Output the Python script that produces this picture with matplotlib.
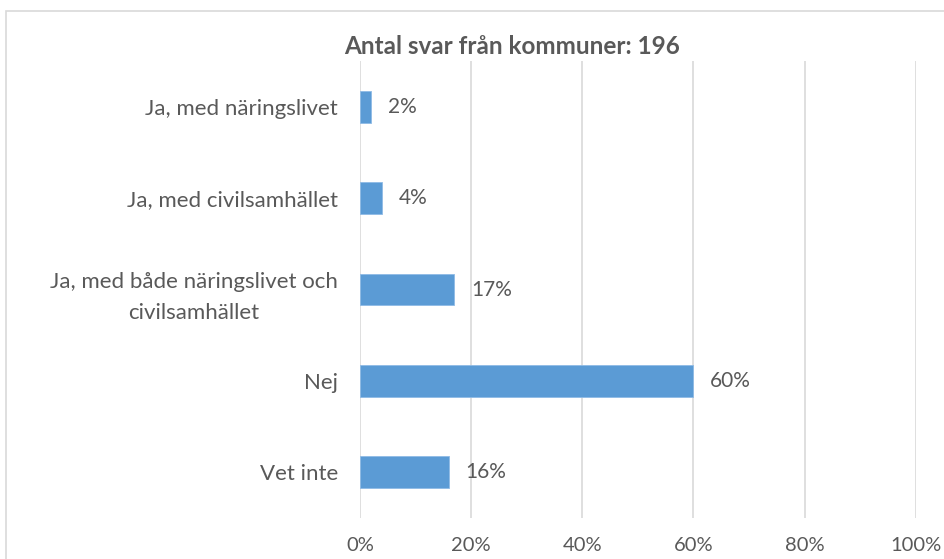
import matplotlib
matplotlib.use("Agg")
import matplotlib.pyplot as plt
from matplotlib.patches import Rectangle
from matplotlib.ticker import FuncFormatter

plt.rcParams["font.family"] = ["Lato", "DejaVu Sans"]

categories = ["Ja, med näringslivet", "Ja, med civilsamhället",
              "Ja, med både näringslivet och\ncivilsamhället", "Nej", "Vet inte"]
values = [2, 4, 17, 60, 16]
title = "Antal svar från kommuner: 196"

text_col = "#595959"
bar_col = "#5B9BD5"
grid_col = "#D9D9D9"

fig = plt.figure(figsize=(9.45, 5.59), dpi=100)
ax = fig.add_axes([360 / 945, 1 - 518 / 559, (915.7 - 360) / 945, (518 - 61) / 559])

# chart border (runs off the right and bottom edge)
fig.patches.append(Rectangle((6 / 945, -0.1), 1.2, 1 - 11 / 559 + 0.1, transform=fig.transFigure,
                             fill=False, edgecolor="#D9D9D9", linewidth=1.2))

ypos = list(range(len(categories)))
ax.barh(ypos, values, height=0.35, color=bar_col, edgecolor="#8FBBE6", linewidth=0.6, zorder=3)
for y, v in zip(ypos, values):
    ax.annotate("{}%".format(v), (v, y), xytext=(12, 0), textcoords="offset points",
                va="center", ha="left", fontsize=15, color=text_col)

ax.set_xlim(0, 100)
ax.set_ylim(len(categories) - 0.5, -0.5)
ax.set_xticks([0, 20, 40, 60, 80, 100])
ax.xaxis.set_major_formatter(FuncFormatter(lambda x, p: "{:.0f}%".format(x)))
ax.set_yticks(ypos)
ax.set_yticklabels(categories, multialignment="center", linespacing=1.7, fontsize=16)
ax.tick_params(axis="both", length=0, labelcolor=text_col)
ax.tick_params(axis="x", labelsize=14.5, pad=14)
ax.tick_params(axis="y", pad=16)
ax.grid(axis="x", color=grid_col, linewidth=1.2, zorder=0)
for s in ax.spines.values():
    s.set_visible(False)

fig.text(512 / 945, 1 - 47 / 559, title, ha="center", va="center",
         fontsize=17.5, fontweight="bold", color=text_col)

fig.savefig("out.png", dpi=100)
